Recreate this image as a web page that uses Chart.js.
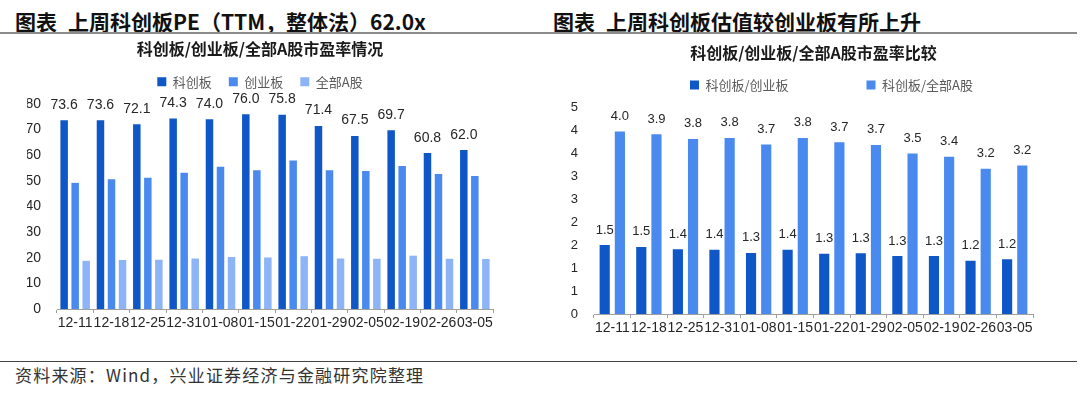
<!DOCTYPE html>
<html lang="zh-CN">

<head>
    <meta charset="UTF-8">
    <title>科创板市盈率</title>
    <script src="https://cdn.jsdelivr.net/npm/chart.js"></script>
    <style>
        body { margin: 0; width: 1080px; height: 398px; background: #fff; position: relative; overflow: hidden; font-family: "Noto Sans CJK SC", sans-serif; }
        .head { position: absolute; top: 6px; font-size: 21px; font-weight: bold; color: #111; line-height: 30px; white-space: nowrap; }
        .head span { margin-left: 11px; }
        .rule { position: absolute; left: 0; width: 1077px; }
        .src { position: absolute; left: 15px; top: 363px; font-size: 17px; letter-spacing: 1.2px; color: #333; line-height: 24px; white-space: nowrap; }
        .box { position: absolute; }
    </style>
</head>

<body>
    <div class="head" style="left:15px">图表<span>上周科创板PE（TTM，整体法）62.0x</span></div>
    <div class="head" style="left:553px">图表<span>上周科创板估值较创业板有所上升</span></div>
    <div class="rule" style="top:32px;height:2px;background:#8c8c8c"></div>

    <div class="box" style="left:0;top:39px;width:540px;height:300px"><canvas id="peChart"></canvas></div>
    <div class="box" style="left:540px;top:43px;width:560px;height:301px"><canvas id="ratioChart"></canvas></div>

    <div class="rule" style="top:361px;height:1px;background:#444"></div>
    <div class="src">资料来源：Wind，兴业证券经济与金融研究院整理</div>

    <script>
        const dates = ['12-11', '12-18', '12-25', '12-31', '01-08', '01-15', '01-22', '01-29', '02-05', '02-19', '02-26', '03-05'];
        // PE (TTM)
        const peStar = [73.6, 73.6, 72.1, 74.3, 74.0, 76.0, 75.8, 71.4, 67.5, 69.7, 60.8, 62.0];
        const peGem = [49.2, 50.6, 51.2, 53.1, 55.5, 54.1, 57.9, 54.1, 53.8, 55.8, 52.7, 51.9];
        const peAll = [18.8, 19.1, 19.2, 19.7, 20.3, 20.1, 20.6, 19.7, 19.6, 20.8, 19.6, 19.5];
        // ratios
        const ratioGem = [1.50, 1.46, 1.41, 1.40, 1.33, 1.40, 1.31, 1.32, 1.26, 1.26, 1.16, 1.19];
        const ratioAll = [3.97, 3.91, 3.81, 3.83, 3.69, 3.83, 3.74, 3.68, 3.49, 3.42, 3.16, 3.23];

        const navy = '#0F57C7';
        const mid = '#4A8AEF';
        const pale = '#8DB4F7';
        const numFont = '"Liberation Sans", Arial, sans-serif';
        const cjkFont = '"Noto Sans CJK SC", sans-serif';

        // numbers above the bars
        const valueLabels = {
            id: 'valueLabels',
            afterDatasetsDraw(chart, args, o) {
                const ctx = chart.ctx;
                ctx.save();
                ctx.font = o.size + 'px ' + numFont;
                ctx.fillStyle = '#262626';
                ctx.textAlign = 'center';
                ctx.textBaseline = 'alphabetic';
                chart.data.datasets.forEach((ds, i) => {
                    if (!ds.labelled) return;
                    chart.getDatasetMeta(i).data.forEach((bar, j) => {
                        ctx.fillText(ds.data[j].toFixed(1), bar.x, bar.y - o.gap);
                    });
                });
                ctx.restore();
            }
        };

        function xAxis() {
            return {
                grid: { display: true, drawOnChartArea: false, drawTicks: true, tickLength: 4, offset: true, color: '#a0a0a0' },
                border: { display: true, color: '#a0a0a0' },
                ticks: { color: '#262626', font: { family: numFont, size: 14 }, padding: 2, maxRotation: 0, autoSkip: false },
                afterFit: s => { s.height = 30; }
            };
        }

        function yAxis(max, step, size, width, fmt) {
            return {
                min: 0, max: max,
                grid: { display: false, drawTicks: false },
                border: { display: false },
                ticks: { stepSize: step, color: '#262626', font: { family: numFont, size: size }, padding: 16, callback: fmt },
                afterFit: s => { s.width = width; }
            };
        }

        function legend(pad, gapText) {
            return {
                position: 'top',
                labels: {
                    boxWidth: 9, boxHeight: 9, padding: pad, color: '#595959',
                    font: { family: cjkFont, size: 13 },
                    generateLabels(chart) {
                        const items = Chart.defaults.plugins.legend.labels.generateLabels(chart);
                        items.forEach((it, i) => { if (i < items.length - 1) it.text += gapText; });
                        return items;
                    }
                }
            };
        }

        function title(text, bottom, fullSize) {
            return {
                display: true, text: text, color: '#1a1a1a', fullSize: fullSize,
                font: { family: cjkFont, size: 16, weight: 'bold', lineHeight: 1.2 },
                padding: { top: 0, bottom: bottom }
            };
        }

        // empty box between legend and plot
        const spacer = { display: true, text: '', weight: 500, font: { size: 1, lineHeight: 1 }, padding: { top: 0, bottom: 4.7 } };

        new Chart(document.getElementById('peChart'), {
            type: 'bar',
            data: {
                labels: dates,
                datasets: [
                    { label: '科创板', data: peStar, backgroundColor: navy, labelled: true },
                    { label: '创业板', data: peGem, backgroundColor: mid },
                    { label: '全部A股', data: peAll, backgroundColor: pale }
                ]
            },
            options: {
                responsive: true, maintainAspectRatio: false, animation: false,
                layout: { padding: { left: 27, right: 47, top: 0, bottom: 0 } },
                datasets: { bar: { categoryPercentage: 0.91, barPercentage: 0.68 } },
                scales: {
                    x: xAxis(),
                    y: yAxis(80, 10, 14, 30, v => v)
                },
                plugins: {
                    title: title('科创板/创业板/全部A股市盈率情况', 0, true),
                    subtitle: spacer,
                    legend: legend(17, ''),
                    tooltip: { enabled: false },
                    valueLabels: { size: 14, gap: 11.5 }
                }
            },
            plugins: [valueLabels]
        });

        // canvas runs past the page edge so the legend box centres further right
        new Chart(document.getElementById('ratioChart'), {
            type: 'bar',
            data: {
                labels: dates,
                datasets: [
                    { label: '科创板/创业板', data: ratioGem, backgroundColor: navy, labelled: true },
                    { label: '科创板/全部A股', data: ratioAll, backgroundColor: mid, labelled: true }
                ]
            },
            options: {
                responsive: true, maintainAspectRatio: false, animation: false,
                layout: { padding: { left: 26, right: 3, top: 0, bottom: 0 } },
                datasets: { bar: { categoryPercentage: 0.83, barPercentage: 0.67 } },
                scales: {
                    x: xAxis(),
                    y: yAxis(4.5, 0.5, 13, 28, v => Math.round(v)),
                    y2: {
                        position: 'right', display: true,
                        grid: { display: false, drawTicks: false }, border: { display: false },
                        ticks: { display: false },
                        afterFit: s => { s.width = 64; }
                    }
                },
                plugins: {
                    title: title('科创板/创业板/全部A股市盈率比较', 6.3, false),
                    subtitle: spacer,
                    legend: legend(10, '\u3000\u3000\u3000\u3000\u3000 '),
                    tooltip: { enabled: false },
                    valueLabels: { size: 13, gap: 11.5 }
                }
            },
            plugins: [valueLabels]
        });
    </script>
</body>

</html>
